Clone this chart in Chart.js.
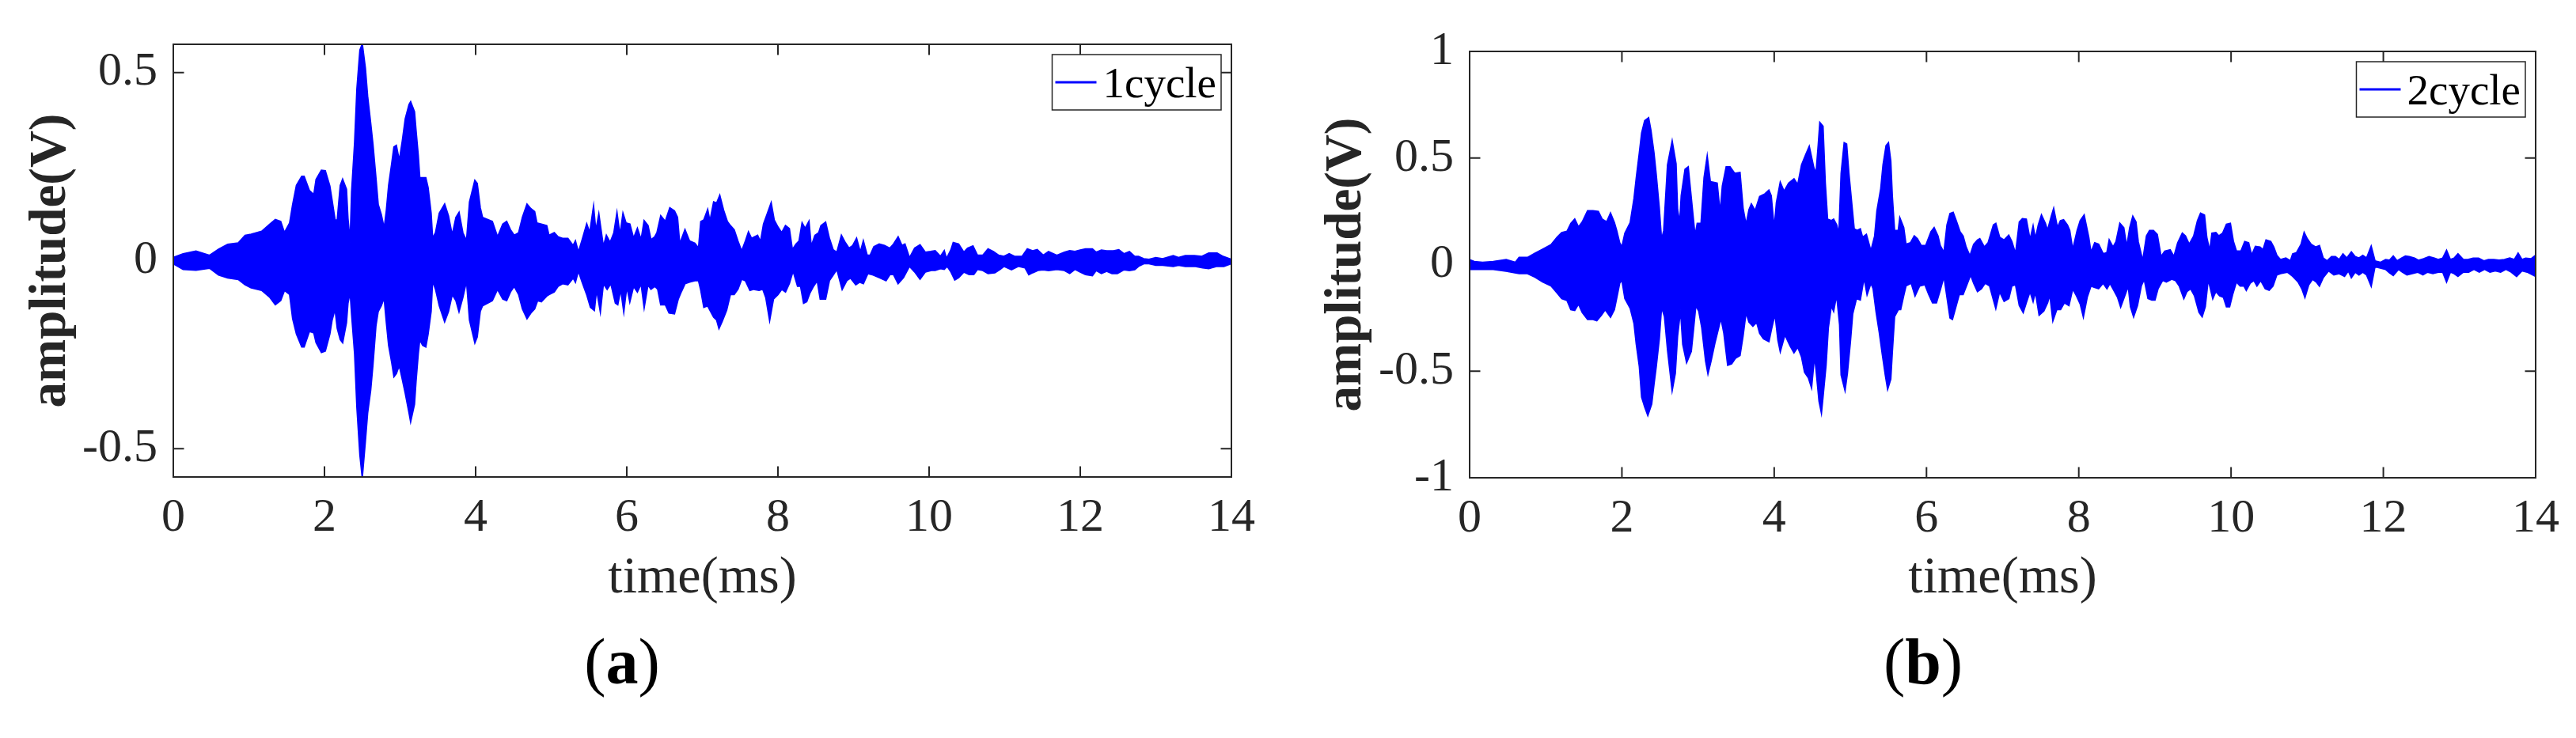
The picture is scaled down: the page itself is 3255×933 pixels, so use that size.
<!DOCTYPE html>
<html>
<head>
<meta charset="utf-8">
<script src="https://cdn.jsdelivr.net/npm/chart.js@4/dist/chart.umd.min.js"></script>
<style>
  html, body { margin: 0; padding: 0; background: #fff; }
  #page { position: relative; width: 3255px; height: 933px; overflow: hidden; }
  .panel { position: absolute; top: 0; }
  .tag { position: absolute; font-family: "Liberation Serif", "Times New Roman", serif; font-size: 82px; line-height: 82px; color: #000; transform: translateX(-50%); white-space: nowrap; }
</style>
</head>
<body>
<div id="page">
  <div class="panel" style="left:0"><canvas id="chartA" width="1640" height="790"></canvas></div>
  <div class="panel" style="left:1640px"><canvas id="chartB" width="1615" height="790"></canvas></div>
  <div class="tag" style="left:786px; top:796px">(<b>a</b>)</div>
  <div class="tag" style="left:2430px; top:796px">(<b>b</b>)</div>
</div>
<script>
// time axis (ms) and tick values
const xTicks = [0, 2, 4, 6, 8, 10, 12, 14];
const yTicksA = [-0.5, 0, 0.5];
const yTicksB = [-1, -0.5, 0, 0.5, 1];

// envelope of the 1cycle signal, [time ms, amplitude V]
const upperA = [[0,0.008],[0.13,0.018],[0.30,0.025],[0.48,0.014],[0.60,0.03],[0.72,0.043],[0.86,0.047],[0.95,0.067],[1.03,0.07],[1.17,0.078],[1.28,0.097],[1.35,0.109],[1.42,0.104],[1.47,0.074],[1.54,0.1],[1.58,0.149],[1.63,0.2],[1.70,0.224],[1.73,0.224],[1.80,0.186],[1.86,0.175],[1.89,0.216],[1.96,0.24],[2.01,0.239],[2.07,0.198],[2.10,0.16],[2.14,0.108],[2.17,0.108],[2.21,0.2],[2.24,0.216],[2.29,0.19],[2.31,0.112],[2.34,0.048],[2.36,0.183],[2.40,0.314],[2.43,0.456],[2.47,0.56],[2.50,0.575],[2.54,0.512],[2.57,0.437],[2.61,0.366],[2.64,0.31],[2.68,0.22],[2.71,0.149],[2.75,0.123],[2.79,0.085],[2.82,0.134],[2.85,0.2],[2.89,0.257],[2.92,0.302],[2.95,0.306],[2.99,0.265],[3.03,0.317],[3.07,0.377],[3.12,0.415],[3.14,0.422],[3.19,0.396],[3.21,0.347],[3.24,0.28],[3.26,0.22],[3.30,0.22],[3.34,0.22],[3.37,0.194],[3.41,0.126],[3.43,0.059],[3.47,0.074],[3.52,0.126],[3.59,0.15],[3.64,0.119],[3.69,0.067],[3.74,0.115],[3.78,0.128],[3.83,0.074],[3.88,0.052],[3.92,0.156],[3.99,0.213],[4.02,0.205],[4.06,0.141],[4.09,0.115],[4.22,0.104],[4.29,0.063],[4.36,0.097],[4.41,0.104],[4.46,0.082],[4.51,0.067],[4.57,0.074],[4.62,0.115],
  [4.68,0.15],[4.73,0.138],[4.78,0.13],[4.81,0.1],[4.87,0.097],[4.94,0.093],[4.97,0.067],[5.04,0.074],[5.09,0.063],[5.15,0.059],[5.22,0.059],[5.29,0.04],[5.32,0.052],[5.36,0.022],[5.41,0.055],[5.47,0.097],[5.51,0.074],[5.56,0.143],[5.59,0.078],[5.63,0.123],[5.69,0.037],[5.73,0.067],[5.78,0.048],[5.83,0.074],[5.87,0.126],[5.91,0.067],[5.95,0.125],[5.99,0.1],[6.04,0.097],[6.09,0.059],[6.14,0.085],[6.19,0.055],[6.23,0.106],[6.28,0.093],[6.32,0.055],[6.37,0.063],[6.40,0.074],[6.45,0.119],[6.51,0.104],[6.57,0.14],[6.63,0.132],[6.67,0.115],[6.70,0.044],[6.77,0.082],[6.83,0.052],[6.90,0.046],[6.95,0.033],[6.98,0.104],[7.02,0.108],[7.07,0.135],[7.10,0.104],[7.15,0.156],[7.19,0.153],[7.23,0.173],[7.28,0.134],[7.33,0.104],[7.37,0.093],[7.42,0.082],[7.47,0.052],[7.52,0.025],[7.57,0.052],[7.61,0.076],[7.65,0.059],[7.73,0.067],[7.77,0.05],[7.81,0.097],[7.86,0.125],[7.91,0.153],[7.95,0.108],[8.00,0.089],[8.05,0.074],[8.10,0.093],[8.15,0.085],[8.19,0.029],[8.24,0.044],[8.28,0.052],[8.32,0.1],[8.36,0.085],[8.41,0.104],[8.44,0.037],[8.49,0.067],[8.54,0.074],[8.57,0.093],[8.63,0.102],[8.68,0.059],[8.73,0.029],[8.78,0.022],[8.84,0.067],[8.89,0.048],[8.94,0.033],[8.99,0.04],[9.04,0.059],[9.09,0.022],[9.13,0.052],[9.18,0.014],[9.22,0.014],
  [9.27,0.037],[9.34,0.044],[9.41,0.04],[9.48,0.033],[9.53,0.044],[9.59,0.063],[9.64,0.04],[9.68,0.044],[9.74,0.007],[9.81,0.033],[9.88,0.042],[9.95,0.022],[10.02,0.024],[10.08,0.026],[10.15,0.011],[10.20,0.026],[10.23,0.005],[10.29,0.029],[10.32,0.048],[10.39,0.044],[10.46,0.022],[10.51,0.033],[10.58,0.039],[10.64,0.014],[10.71,0.014],[10.78,0.031],[10.85,0.024],[10.92,0.014],[10.99,0.011],[11.06,0.018],[11.13,0.011],[11.23,0.011],[11.30,0.031],[11.37,0.026],[11.43,0.029],[11.51,0.014],[11.58,0.024],[11.69,0.014],[11.79,0.022],[11.86,0.026],[11.93,0.024],[12.00,0.028],[12.07,0.031],[12.16,0.031],[12.21,0.022],[12.28,0.028],[12.35,0.026],[12.44,0.026],[12.51,0.029],[12.58,0.018],[12.65,0.024],[12.72,0.011],[12.77,0.011],[12.84,0.005],[12.91,0.003],[13.00,0.008],[13.09,0.005],[13.23,0.013],[13.30,0.008],[13.39,0.013],[13.51,0.013],[13.61,0.011],[13.70,0.02],[13.81,0.02],[13.89,0.011],[14.0,0.003]];

const lowerA = [[0,-0.008],[0.13,-0.023],[0.30,-0.025],[0.48,-0.02],[0.60,-0.038],[0.72,-0.046],[0.86,-0.05],[0.95,-0.064],[1.03,-0.072],[1.17,-0.079],[1.28,-0.098],[1.35,-0.117],[1.42,-0.106],[1.47,-0.079],[1.54,-0.09],[1.58,-0.154],[1.63,-0.195],[1.70,-0.229],[1.73,-0.229],[1.80,-0.188],[1.86,-0.192],[1.89,-0.218],[1.96,-0.244],[2.01,-0.24],[2.07,-0.195],[2.10,-0.158],[2.14,-0.128],[2.17,-0.18],[2.21,-0.21],[2.24,-0.218],[2.29,-0.165],[2.31,-0.113],[2.34,-0.083],[2.36,-0.143],[2.40,-0.248],[2.43,-0.39],[2.47,-0.517],[2.50,-0.575],[2.54,-0.48],[2.57,-0.405],[2.61,-0.345],[2.64,-0.278],[2.68,-0.173],[2.71,-0.135],[2.75,-0.12],[2.79,-0.098],[2.82,-0.165],[2.85,-0.225],[2.89,-0.27],[2.92,-0.308],[2.95,-0.3],[2.99,-0.278],[3.03,-0.315],[3.07,-0.353],[3.12,-0.405],[3.14,-0.427],[3.19,-0.382],[3.21,-0.322],[3.24,-0.248],[3.26,-0.21],[3.30,-0.225],[3.34,-0.229],[3.37,-0.195],[3.41,-0.135],[3.43,-0.053],[3.47,-0.076],[3.52,-0.12],[3.59,-0.162],[3.64,-0.135],[3.69,-0.09],[3.74,-0.106],[3.78,-0.135],[3.83,-0.098],[3.88,-0.053],[3.92,-0.158],[3.99,-0.218],[4.02,-0.203],[4.06,-0.135],[4.09,-0.12],[4.22,-0.106],[4.29,-0.076],[4.36,-0.102],[4.41,-0.106],[4.46,-0.083],[4.51,-0.068],[4.57,-0.09],[4.62,-0.128],
  [4.68,-0.154],[4.73,-0.139],[4.78,-0.128],[4.82,-0.106],[4.87,-0.109],[4.94,-0.094],[4.97,-0.09],[5.04,-0.083],[5.09,-0.068],[5.15,-0.061],[5.22,-0.064],[5.29,-0.046],[5.32,-0.057],[5.36,-0.027],[5.41,-0.057],[5.47,-0.09],[5.52,-0.124],[5.57,-0.132],[5.60,-0.076],[5.65,-0.135],[5.69,-0.061],[5.74,-0.076],[5.79,-0.061],[5.85,-0.113],[5.88,-0.117],[5.92,-0.076],[5.96,-0.135],[6.00,-0.068],[6.04,-0.109],[6.09,-0.068],[6.14,-0.083],[6.19,-0.061],[6.23,-0.124],[6.28,-0.064],[6.32,-0.076],[6.37,-0.068],[6.41,-0.076],[6.45,-0.117],[6.51,-0.117],[6.56,-0.139],[6.63,-0.141],[6.68,-0.102],[6.72,-0.083],[6.77,-0.061],[6.83,-0.057],[6.90,-0.053],[6.95,-0.053],[6.98,-0.079],[7.02,-0.124],[7.07,-0.12],[7.11,-0.135],[7.15,-0.15],[7.19,-0.158],[7.22,-0.18],[7.26,-0.162],[7.32,-0.132],[7.37,-0.09],[7.42,-0.09],[7.47,-0.076],[7.52,-0.049],[7.57,-0.053],[7.63,-0.079],[7.68,-0.076],[7.75,-0.079],[7.80,-0.076],[7.84,-0.098],[7.89,-0.158],[7.94,-0.102],[8.00,-0.09],[8.05,-0.076],[8.10,-0.083],[8.15,-0.061],[8.20,-0.027],[8.26,-0.068],[8.30,-0.068],[8.34,-0.113],[8.38,-0.109],[8.42,-0.087],[8.47,-0.068],[8.52,-0.053],[8.56,-0.102],[8.63,-0.102],[8.68,-0.053],[8.73,-0.038],[8.78,-0.023],[8.85,-0.076],[8.91,-0.053],[8.96,-0.046],[9.03,-0.064],[9.08,-0.057],[9.13,-0.061],[9.19,-0.034],[9.26,-0.038],
  [9.34,-0.045],[9.43,-0.053],[9.48,-0.037],[9.53,-0.037],[9.59,-0.061],[9.66,-0.045],[9.74,-0.015],[9.81,-0.03],[9.88,-0.049],[9.95,-0.03],[10.03,-0.026],[10.08,-0.026],[10.15,-0.021],[10.20,-0.023],[10.24,-0.015],[10.29,-0.03],[10.34,-0.051],[10.39,-0.045],[10.46,-0.03],[10.53,-0.037],[10.59,-0.037],[10.64,-0.023],[10.71,-0.026],[10.78,-0.034],[10.87,-0.032],[10.94,-0.023],[10.99,-0.015],[11.09,-0.024],[11.18,-0.015],[11.27,-0.019],[11.32,-0.037],[11.37,-0.032],[11.44,-0.026],[11.51,-0.024],[11.58,-0.026],[11.69,-0.023],[11.79,-0.026],[11.86,-0.034],[11.93,-0.023],[12.00,-0.03],[12.07,-0.037],[12.16,-0.04],[12.21,-0.026],[12.28,-0.034],[12.35,-0.028],[12.42,-0.034],[12.49,-0.034],[12.58,-0.024],[12.65,-0.026],[12.72,-0.024],[12.77,-0.015],[12.84,-0.008],[12.91,-0.008],[13.00,-0.012],[13.09,-0.012],[13.23,-0.015],[13.30,-0.012],[13.39,-0.015],[13.51,-0.015],[13.62,-0.019],[13.70,-0.021],[13.81,-0.015],[13.90,-0.015],[14.0,-0.008]];

// envelope of the 2cycle signal
const upperB = [[0,0.023],[0.06,0.014],[0.17,0.01],[0.31,0.014],[0.48,0.023],[0.60,0.01],[0.65,0.033],[0.76,0.033],[0.86,0.053],[0.96,0.072],[1.07,0.093],[1.15,0.128],[1.21,0.15],[1.28,0.156],[1.33,0.193],[1.38,0.213],[1.43,0.176],[1.48,0.2],[1.55,0.252],[1.62,0.252],[1.69,0.249],[1.74,0.213],[1.80,0.2],[1.85,0.241],[1.90,0.197],[1.93,0.16],[1.97,0.102],[2.00,0.082],[2.04,0.147],[2.11,0.197],[2.16,0.31],[2.19,0.408],[2.23,0.525],[2.26,0.617],[2.30,0.675],[2.35,0.688],[2.38,0.63],[2.42,0.525],[2.45,0.421],[2.49,0.265],[2.52,0.115],[2.55,0.16],[2.60,0.467],[2.66,0.578],[2.71,0.473],[2.73,0.258],[2.76,0.193],[2.78,0.323],[2.83,0.447],[2.87,0.458],[2.92,0.278],[2.96,0.134],[2.99,0.193],[3.04,0.193],[3.08,0.408],[3.12,0.506],[3.16,0.389],[3.20,0.386],[3.25,0.382],[3.29,0.239],[3.32,0.369],[3.37,0.458],[3.42,0.458],[3.48,0.428],[3.55,0.432],[3.59,0.265],[3.63,0.186],[3.67,0.258],[3.70,0.284],[3.75,0.252],[3.81,0.319],[3.88,0.332],[3.93,0.349],[3.96,0.323],[4.00,0.167],[4.03,0.291],[4.08,0.385],[4.13,0.343],[4.19,0.382],[4.26,0.402],[4.31,0.375],[4.36,0.467],[4.41,0.512],[4.46,0.554],[4.52,0.454],[4.55,0.428],[4.58,0.565],[4.60,0.666],
  [4.64,0.649],[4.67,0.382],[4.70,0.213],[4.75,0.206],[4.78,0.213],[4.82,0.186],[4.85,0.141],[4.88,0.428],[4.92,0.571],[4.95,0.565],[4.98,0.428],[5.02,0.278],[5.05,0.167],[5.09,0.16],[5.13,0.167],[5.16,0.128],[5.21,0.141],[5.27,0.063],[5.32,0.134],[5.35,0.252],[5.40,0.356],[5.43,0.467],[5.47,0.558],[5.50,0.571],[5.53,0.486],[5.55,0.323],[5.58,0.16],[5.63,0.16],[5.65,0.219],[5.70,0.173],[5.73,0.095],[5.79,0.102],[5.84,0.134],[5.88,0.121],[5.93,0.089],[5.99,0.089],[6.06,0.154],[6.10,0.173],[6.15,0.134],[6.18,0.089],[6.23,0.056],[6.27,0.186],[6.31,0.239],[6.35,0.245],[6.39,0.206],[6.44,0.154],[6.48,0.134],[6.52,0.082],[6.57,0.04],[6.62,0.095],[6.67,0.115],[6.70,0.121],[6.76,0.082],[6.81,0.102],[6.88,0.186],[6.91,0.193],[6.96,0.128],[7.02,0.115],[7.08,0.137],[7.12,0.108],[7.17,0.05],[7.22,0.2],[7.26,0.215],[7.31,0.213],[7.36,0.115],[7.40,0.18],[7.43,0.121],[7.47,0.186],[7.51,0.232],[7.56,0.193],[7.59,0.16],[7.64,0.226],[7.67,0.262],[7.72,0.173],[7.76,0.206],[7.80,0.21],[7.85,0.186],[7.88,0.16],[7.92,0.069],[7.98,0.16],[8.02,0.206],[8.07,0.232],[8.13,0.128],[8.16,0.056],[8.21,0.102],[8.26,0.095],[8.32,0.05],[8.37,0.056],[8.40,0.115],[8.45,0.082],[8.49,0.108],[8.54,0.193],[8.59,0.173],[8.63,0.082],[8.67,0.173],[8.71,0.226],[8.75,0.2],[8.78,0.108],[8.84,0.017],[8.89,0.134],[8.93,0.16],[8.98,0.16],[9.03,0.141],[9.08,0.037],[9.13,0.063],[9.20,0.069],[9.25,0.037],[9.30,0.102],
  [9.36,0.147],[9.40,0.134],[9.45,0.095],[9.51,0.134],[9.56,0.206],[9.60,0.241],[9.65,0.232],[9.68,0.128],[9.72,0.063],[9.75,0.147],[9.80,0.15],[9.84,0.134],[9.89,0.147],[9.94,0.189],[9.99,0.193],[10.03,0.108],[10.07,0.063],[10.13,0.063],[10.18,0.108],[10.23,0.102],[10.27,0.043],[10.32,0.085],[10.38,0.082],[10.42,0.069],[10.46,0.115],[10.52,0.108],[10.56,0.082],[10.60,0.043],[10.65,0.023],[10.72,0.03],[10.78,0.017],[10.81,0.05],[10.86,0.056],[10.92,0.095],[10.96,0.15],[11.00,0.121],[11.05,0.095],[11.11,0.082],[11.16,0.089],[11.21,0.03],[11.26,0.017],[11.32,0.037],[11.37,0.037],[11.42,0.023],[11.47,0.05],[11.52,0.03],[11.58,0.059],[11.63,0.037],[11.68,0.03],[11.73,0.043],[11.78,0.03],[11.84,0.085],[11.89,0.017],[11.96,0.01],[12.03,0.023],[12.08,0.02],[12.13,0.04],[12.18,0.017],[12.24,0.03],[12.29,0.04],[12.34,0.037],[12.41,0.03],[12.46,0.02],[12.53,0.027],[12.60,0.037],[12.67,0.03],[12.72,0.023],[12.78,0.03],[12.83,0.066],[12.88,0.023],[12.93,0.03],[12.98,0.05],[13.05,0.023],[13.11,0.023],[13.18,0.03],[13.25,0.03],[13.32,0.017],[13.38,0.023],[13.45,0.023],[13.52,0.02],[13.59,0.023],[13.66,0.03],[13.72,0.023],[13.77,0.053],[13.82,0.023],[13.87,0.03],[13.94,0.027],[14.0,0.043]];

const lowerB = [[0,-0.022],[0.17,-0.022],[0.31,-0.022],[0.48,-0.031],[0.65,-0.042],[0.76,-0.042],[0.86,-0.059],[0.96,-0.081],[1.07,-0.1],[1.15,-0.133],[1.21,-0.159],[1.28,-0.168],[1.33,-0.211],[1.38,-0.215],[1.43,-0.185],[1.48,-0.224],[1.55,-0.257],[1.62,-0.257],[1.67,-0.263],[1.73,-0.237],[1.78,-0.211],[1.85,-0.246],[1.90,-0.211],[1.93,-0.159],[1.97,-0.087],[2.00,-0.072],[2.04,-0.159],[2.11,-0.205],[2.16,-0.276],[2.19,-0.374],[2.23,-0.478],[2.26,-0.622],[2.30,-0.668],[2.34,-0.707],[2.39,-0.654],[2.42,-0.563],[2.45,-0.478],[2.49,-0.348],[2.52,-0.198],[2.56,-0.244],[2.60,-0.4],[2.66,-0.589],[2.70,-0.511],[2.73,-0.335],[2.77,-0.211],[2.80,-0.374],[2.85,-0.459],[2.91,-0.407],[2.94,-0.302],[2.97,-0.192],[3.01,-0.218],[3.05,-0.296],[3.10,-0.452],[3.13,-0.511],[3.17,-0.452],[3.22,-0.368],[3.27,-0.296],[3.30,-0.25],[3.34,-0.322],[3.39,-0.472],[3.44,-0.465],[3.49,-0.439],[3.55,-0.426],[3.59,-0.335],[3.63,-0.224],[3.67,-0.27],[3.72,-0.289],[3.77,-0.27],[3.81,-0.322],[3.86,-0.348],[3.93,-0.361],[3.96,-0.309],[4.01,-0.231],[4.05,-0.355],[4.08,-0.407],[4.14,-0.329],[4.21,-0.381],[4.26,-0.413],[4.31,-0.387],[4.36,-0.433],[4.40,-0.505],[4.45,-0.531],[4.49,-0.576],[4.53,-0.426],[4.55,-0.492],[4.59,-0.641],[4.62,-0.694],
  [4.64,-0.622],[4.68,-0.472],[4.71,-0.296],[4.75,-0.192],[4.78,-0.218],[4.82,-0.14],[4.86,-0.283],[4.88,-0.518],[4.93,-0.589],[4.96,-0.511],[5.00,-0.361],[5.03,-0.231],[5.08,-0.159],[5.13,-0.166],[5.18,-0.061],[5.22,-0.14],[5.27,-0.087],[5.30,-0.113],[5.34,-0.224],[5.38,-0.316],[5.42,-0.42],[5.46,-0.518],[5.49,-0.583],[5.53,-0.537],[5.55,-0.413],[5.58,-0.244],[5.63,-0.211],[5.66,-0.211],[5.70,-0.146],[5.73,-0.1],[5.80,-0.087],[5.85,-0.146],[5.91,-0.1],[5.98,-0.094],[6.03,-0.14],[6.08,-0.179],[6.13,-0.179],[6.18,-0.12],[6.23,-0.055],[6.27,-0.153],[6.31,-0.25],[6.34,-0.257],[6.38,-0.205],[6.43,-0.14],[6.48,-0.14],[6.53,-0.094],[6.58,-0.048],[6.62,-0.087],[6.67,-0.126],[6.72,-0.113],[6.77,-0.087],[6.83,-0.1],[6.88,-0.166],[6.91,-0.205],[6.96,-0.126],[7.02,-0.172],[7.08,-0.159],[7.12,-0.1],[7.17,-0.094],[7.22,-0.192],[7.27,-0.224],[7.31,-0.179],[7.36,-0.126],[7.40,-0.172],[7.43,-0.126],[7.48,-0.237],[7.54,-0.218],[7.59,-0.179],[7.62,-0.14],[7.66,-0.263],[7.71,-0.211],[7.76,-0.211],[7.81,-0.179],[7.87,-0.192],[7.92,-0.113],[7.97,-0.146],[8.02,-0.185],[8.06,-0.244],[8.11,-0.153],[8.16,-0.1],[8.21,-0.107],[8.26,-0.113],[8.32,-0.087],[8.37,-0.113],[8.41,-0.087],[8.46,-0.12],[8.51,-0.153],[8.55,-0.198],[8.59,-0.159],[8.65,-0.1],[8.68,-0.198],[8.72,-0.244],[8.77,-0.192],[8.82,-0.1],[8.86,-0.068],[8.91,-0.159],[8.96,-0.166],[9.00,-0.166],[9.04,-0.113],[9.10,-0.074],[9.15,-0.081],[9.22,-0.068],[9.27,-0.074],
  [9.32,-0.1],[9.38,-0.159],[9.42,-0.126],[9.47,-0.113],[9.52,-0.146],[9.58,-0.224],[9.62,-0.244],[9.66,-0.198],[9.70,-0.068],[9.76,-0.159],[9.80,-0.126],[9.85,-0.146],[9.90,-0.153],[9.94,-0.198],[9.98,-0.198],[10.02,-0.14],[10.07,-0.081],[10.12,-0.1],[10.17,-0.1],[10.20,-0.12],[10.25,-0.087],[10.30,-0.074],[10.34,-0.1],[10.39,-0.074],[10.45,-0.113],[10.50,-0.12],[10.55,-0.1],[10.60,-0.048],[10.65,-0.042],[10.74,-0.035],[10.81,-0.055],[10.88,-0.081],[10.93,-0.113],[10.97,-0.153],[11.02,-0.094],[11.07,-0.068],[11.12,-0.081],[11.16,-0.1],[11.21,-0.061],[11.28,-0.029],[11.35,-0.048],[11.42,-0.042],[11.49,-0.055],[11.54,-0.029],[11.58,-0.061],[11.63,-0.035],[11.68,-0.048],[11.73,-0.035],[11.78,-0.048],[11.84,-0.1],[11.89,-0.009],[11.96,-0.016],[12.03,-0.022],[12.08,-0.038],[12.13,-0.051],[12.20,-0.022],[12.25,-0.035],[12.31,-0.048],[12.38,-0.042],[12.45,-0.035],[12.52,-0.048],[12.58,-0.035],[12.65,-0.042],[12.72,-0.035],[12.78,-0.035],[12.83,-0.081],[12.88,-0.035],[12.93,-0.042],[12.98,-0.055],[13.05,-0.035],[13.12,-0.035],[13.19,-0.022],[13.26,-0.035],[13.33,-0.022],[13.40,-0.035],[13.47,-0.029],[13.54,-0.035],[13.61,-0.022],[13.68,-0.035],[13.75,-0.055],[13.82,-0.029],[13.89,-0.035],[13.96,-0.048],[14.0,-0.055]];

const BLUE = "#0000ff";
const INK = "#262626";
const SERIF = '"Liberation Serif", "Times New Roman", serif';

// box around the axes plus inward ticks on all four sides
const axesBox = {
    id: "axesBox",
    beforeDatasetsDraw(chart) {
        const { ctx, chartArea: a, scales: { x, y } } = chart;
        const len = 13.5;
        ctx.save();
        ctx.strokeStyle = INK;
        ctx.lineWidth = 2;
        ctx.beginPath();
        x.ticks.forEach(t => {
            const px = x.getPixelForValue(t.value);
            ctx.moveTo(px, a.bottom); ctx.lineTo(px, a.bottom - len);
            ctx.moveTo(px, a.top); ctx.lineTo(px, a.top + len);
        });
        y.ticks.forEach(t => {
            const py = y.getPixelForValue(t.value);
            ctx.moveTo(a.left, py); ctx.lineTo(a.left + len, py);
            ctx.moveTo(a.right, py); ctx.lineTo(a.right - len, py);
        });
        ctx.stroke();
        ctx.restore();
    },
    afterDatasetsDraw(chart) {
        const { ctx, chartArea: a } = chart;
        ctx.save();
        ctx.strokeStyle = INK;
        ctx.lineWidth = 2;
        ctx.strokeRect(a.left, a.top, a.right - a.left, a.bottom - a.top);
        ctx.restore();
    }
};

// boxed legend in the top right corner, like the original figure
const boxLegend = {
    id: "boxLegend",
    afterDraw(chart) {
        const { ctx, chartArea: a } = chart;
        const ds = chart.data.datasets[0];
        ctx.save();
        ctx.font = `55px ${SERIF}`;
        const tw = ctx.measureText(ds.label).width;
        const w = 64 + tw + 6, h = 70;
        const left = a.right - 13 - w, top = a.top + 13;
        ctx.fillStyle = "#fff";
        ctx.fillRect(left, top, w, h);
        ctx.strokeStyle = INK;
        ctx.lineWidth = 1.5;
        ctx.strokeRect(left, top, w, h);
        ctx.strokeStyle = ds.borderColor;
        ctx.lineWidth = 3;
        ctx.beginPath();
        ctx.moveTo(left + 4, top + h / 2);
        ctx.lineTo(left + 56, top + h / 2);
        ctx.stroke();
        ctx.fillStyle = "#000";
        ctx.textBaseline = "alphabetic";
        ctx.fillText(ds.label, left + 64, top + h / 2 + 18.5);
        ctx.restore();
    }
};

function makeChart(id, name, upper, lower, yRange, yTicks, box) {
    const envelope = (pts, fill) => ({
        label: name,
        data: pts.map(([x, y]) => ({ x, y })),
        borderColor: BLUE,
        backgroundColor: BLUE,
        borderWidth: 2,
        pointRadius: 0,
        tension: 0,
        fill: fill
    });

    return new Chart(document.getElementById(id), {
        type: "line",
        // lower envelope is filled up to the upper one
        data: { datasets: [envelope(upper, false), envelope(lower, "-1")] },
        options: {
            responsive: false,
            animation: false,
            events: [],
            layout: { autoPadding: false, padding: { left: 0, right: box.right, top: box.top, bottom: 0 } },
            plugins: { legend: { display: false }, tooltip: { enabled: false } },
            scales: {
                x: {
                    type: "linear",
                    min: 0,
                    max: 14,
                    afterBuildTicks: s => { s.ticks = xTicks.map(v => ({ value: v })); },
                    afterFit: s => { s.height = box.xHeight; },
                    grid: { display: false, drawTicks: false },
                    border: { display: false },
                    ticks: { color: INK, padding: 16.5, maxRotation: 0, font: { family: SERIF, size: 60 }, callback: v => String(v) },
                    title: { display: true, text: "time(ms)", color: INK, font: { family: SERIF, size: 66 }, padding: { top: 0, bottom: 19 } }
                },
                y: {
                    type: "linear",
                    min: yRange[0],
                    max: yRange[1],
                    afterBuildTicks: s => { s.ticks = yTicks.map(v => ({ value: v })); },
                    afterFit: s => { s.width = box.yWidth; },
                    grid: { display: false, drawTicks: false },
                    border: { display: false },
                    ticks: { color: INK, padding: 20, font: { family: SERIF, size: 60 }, callback: v => String(v) },
                    title: { display: true, text: "amplitude(V)", color: INK, font: { family: SERIF, size: 65, weight: "bold" }, padding: { top: box.titleGap, bottom: 0 } }
                }
            }
        },
        plugins: [axesBox, boxLegend]
    });
}

makeChart("chartA", "1cycle", upperA, lowerA, [-0.575, 0.575], yTicksA,
    { right: 84, top: 53, yWidth: 219, xHeight: 187, titleGap: 26.5 });
makeChart("chartB", "2cycle", upperB, lowerB, [-1, 1], yTicksB,
    { right: 51, top: 65, yWidth: 217, xHeight: 186, titleGap: 23.5 });
</script>
</body>
</html>
